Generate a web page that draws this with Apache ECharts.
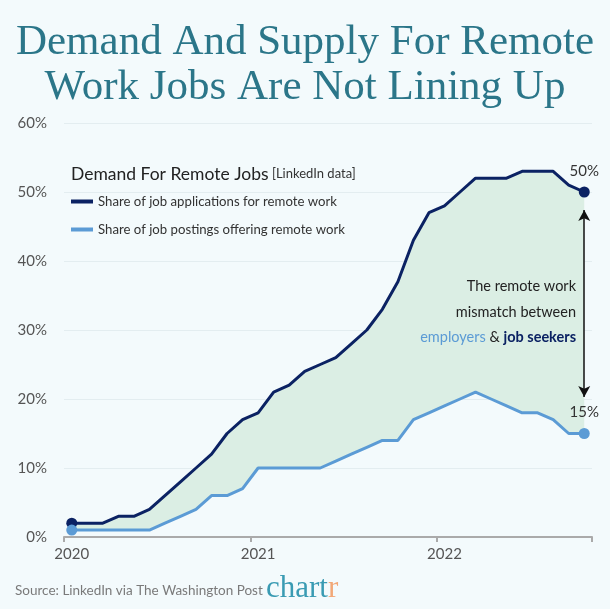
<!DOCTYPE html>
<html>
<head>
<meta charset="utf-8">
<script src="https://cdn.jsdelivr.net/npm/echarts@6/dist/echarts.min.js"></script>
<style>
html, body { margin: 0; padding: 0; background: #f3fafc; }
#chart { width: 610px; height: 609px; }
</style>
</head>
<body>
<div id="chart"></div>
<script>
// monthly points, Jan 2020 - Oct 2022
const months = [
    '2020-01', '2020-02', '2020-03', '2020-04', '2020-05', '2020-06',
    '2020-07', '2020-08', '2020-09', '2020-10', '2020-11', '2020-12',
    '2021-01', '2021-02', '2021-03', '2021-04', '2021-05', '2021-06',
    '2021-07', '2021-08', '2021-09', '2021-10', '2021-11', '2021-12',
    '2022-01', '2022-02', '2022-03', '2022-04', '2022-05', '2022-06',
    '2022-07', '2022-08', '2022-09', '2022-10'
];
// share of job applications for remote work (%)
const applications = [2, 2, 2, 3, 3, 4, 6, 8, 10, 12, 15, 17, 18, 21, 22, 24, 25, 26, 28, 30, 33, 37, 43, 47, 48, 50, 52, 52, 52, 53, 53, 53, 51, 50];
// share of job postings offering remote work (%)
const postings = [1, 1, 1, 1, 1, 1, 2, 3, 4, 6, 6, 7, 10, 10, 10, 10, 10, 11, 12, 13, 14, 14, 17, 18, 19, 20, 21, 20, 19, 18, 18, 17, 15, 15];

const appsName = 'Share of job applications for remote work';
const postName = 'Share of job postings offering remote work';
const last = months.length - 1;
const gap = applications.map((v, i) => v - postings[i]);

const font = 'Lato';
const navy = '#0b2263';
const sky = '#5b9bd5';

const chart = echarts.init(document.getElementById('chart'));

function endDot(value, params) {
    return (params.dataIndex === 0 || params.dataIndex === last) ? 11 : 0;
}
function endLabel(params) {
    return params.dataIndex === last ? params.value + '%' : '';
}

chart.setOption({
    backgroundColor: '#f3fafc',
    animation: false,
    grid: {
        left: 64,
        right: 18,
        top: 123,
        bottom: 72
    },
    legend: {
        data: [appsName, postName],
        orient: 'vertical',
        left: 71,
        top: 195,
        padding: 0,
        itemWidth: 22,
        itemHeight: 4,
        itemGap: 15,
        icon: 'rect',
        textStyle: {
            fontFamily: font,
            fontSize: 13.2,
            color: '#333'
        }
    },
    xAxis: {
        type: 'category',
        data: months,
        boundaryGap: true,
        axisLine: { lineStyle: { color: '#aaaaaa', width: 2 } },
        axisTick: { show: true, interval: 11, length: 5, lineStyle: { color: '#aaaaaa', width: 2 } },
        axisLabel: {
            interval: 11,
            formatter: v => v.slice(0, 4),
            color: '#555',
            fontFamily: font,
            fontSize: 15,
            margin: 10
        },
        splitLine: { show: false }
    },
    yAxis: {
        type: 'value',
        min: 0,
        max: 60,
        interval: 10,
        axisLine: { show: false },
        axisTick: { show: false },
        axisLabel: {
            formatter: '{value}%',
            color: '#555',
            fontFamily: font,
            fontSize: 15,
            margin: 17
        },
        splitLine: { lineStyle: { color: '#e3edf0', width: 1 } }
    },
    series: [
        {
            name: 'base',
            type: 'line',
            data: postings,
            stack: 'band',
            symbol: 'none',
            silent: true,
            lineStyle: { opacity: 0 },
            z: 1
        },
        {
            name: 'band',
            type: 'line',
            data: gap,
            stack: 'band',
            symbol: 'none',
            silent: true,
            lineStyle: { opacity: 0 },
            areaStyle: { color: '#dbeee4', opacity: 1 },
            z: 1
        },
        {
            name: appsName,
            type: 'line',
            data: applications,
            color: navy,
            symbol: 'circle',
            showSymbol: true,
            showAllSymbol: true,
            symbolSize: endDot,
            lineStyle: { color: navy, width: 3 },
            itemStyle: { color: navy },
            label: {
                show: true,
                position: 'top',
                distance: 8,
                formatter: endLabel,
                color: '#333',
                fontFamily: font,
                fontSize: 15
            },
            markLine: {
                silent: true,
                symbol: ['arrow', 'arrow'],
                symbolSize: [9, 11],
                lineStyle: { color: '#111', width: 1.5, type: 'solid' },
                label: { show: false },
                data: [[
                    { coord: [months[last], applications[last] - 2.6] },
                    { coord: [months[last], postings[last] + 5.3] }
                ]]
            },
            z: 3
        },
        {
            name: postName,
            type: 'line',
            data: postings,
            color: sky,
            symbol: 'circle',
            showSymbol: true,
            showAllSymbol: true,
            symbolSize: endDot,
            lineStyle: { color: sky, width: 3 },
            itemStyle: { color: sky },
            label: {
                show: true,
                position: 'top',
                distance: 8,
                formatter: endLabel,
                color: '#333',
                fontFamily: font,
                fontSize: 15
            },
            z: 4
        }
    ],
    graphic: [
        {
            type: 'text',
            x: 305,
            y: 65,
            z: 10,
            style: {
                text: 'Demand And Supply For Remote\nWork Jobs Are Not Lining Up',
                align: 'center',
                verticalAlign: 'middle',
                fontFamily: 'Liberation Serif',
                fontSize: 43,
                lineHeight: 45,
                fill: '#2b7689'
            }
        },
        {
            type: 'text',
            x: 71,
            y: 174,
            z: 10,
            style: {
                text: '{h|Demand For Remote Jobs} {s|[LinkedIn data]}',
                verticalAlign: 'middle',
                rich: {
                    h: { fontFamily: font, fontSize: 17.5, fill: '#222' },
                    s: { fontFamily: font, fontSize: 13, fill: '#333' }
                }
            }
        },
        {
            type: 'text',
            x: 576,
            y: 312,
            z: 10,
            style: {
                text: 'The remote work\nmismatch between\n{e|employers} & {j|job seekers}',
                align: 'right',
                verticalAlign: 'middle',
                fontFamily: font,
                fontSize: 14.5,
                lineHeight: 25.5,
                fill: '#222',
                rich: {
                    e: { fontFamily: font, fontSize: 14.5, fill: sky, lineHeight: 25.5 },
                    j: { fontFamily: font, fontSize: 14.5, fill: navy, fontWeight: 'bold', lineHeight: 25.5 }
                }
            }
        },
        {
            type: 'text',
            x: 15,
            y: 591,
            z: 10,
            style: {
                text: 'Source: LinkedIn via The Washington Post',
                verticalAlign: 'middle',
                fontFamily: font,
                fontSize: 13.5,
                fill: '#7a7a7a'
            }
        },
        {
            type: 'text',
            x: 266,
            y: 589,
            z: 10,
            style: {
                text: '{c|chart}{r|r}',
                verticalAlign: 'middle',
                rich: {
                    c: { fontFamily: 'Liberation Serif', fontSize: 31, fill: '#3a9bb3' },
                    r: { fontFamily: 'Liberation Serif', fontSize: 31, fill: '#f2a878' }
                }
            }
        }
    ]
});
</script>
</body>
</html>
